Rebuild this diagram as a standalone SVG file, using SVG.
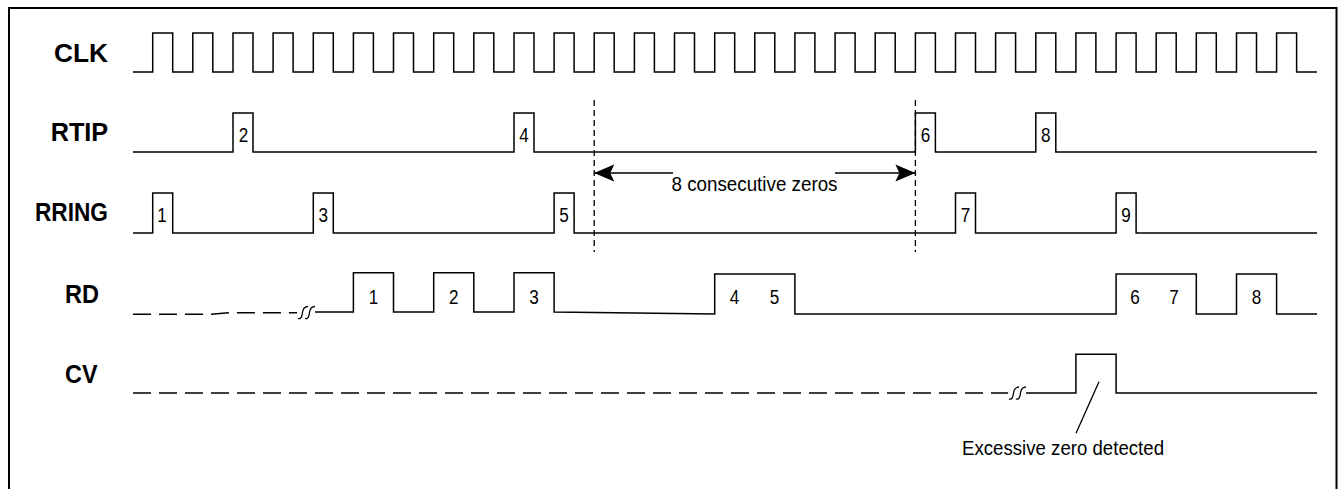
<svg xmlns="http://www.w3.org/2000/svg" xmlns:xlink="http://www.w3.org/1999/xlink" width="1343" height="489" viewBox="0 0 1343 489">
<style>
.wave{fill:none;stroke:#000;stroke-width:1.5;stroke-linejoin:miter}
.dash{fill:none;stroke:#000;stroke-width:1.5;stroke-dasharray:18 8}
.vdash{fill:none;stroke:#000;stroke-width:1.3;stroke-dasharray:6 4}
.lbl{font-family:"Liberation Sans",Arial,sans-serif;font-weight:bold;font-size:26px;fill:#000}
.num{font-family:"Liberation Sans",Arial,sans-serif;font-size:20.5px;fill:#000;text-anchor:middle}
.note{font-family:"Liberation Sans",Arial,sans-serif;font-size:20px;fill:#000}
.brk{fill:none;stroke:#000;stroke-width:1.3}
</style>
<defs>
<path id="brk" class="brk" d="M0,6 C3,7 4,4 4.5,0 S7,-6 10,-6 M7,6 C10,7 11,4 11.5,0 S14,-6 17,-6"/>
<marker id="arr" markerUnits="userSpaceOnUse" markerWidth="22" markerHeight="20" refX="20" refY="0" viewBox="0 -10 22 20" orient="auto">
<path d="M0,-8.5 L20,0 L0,8.5 L4,0 Z" fill="#000"/>
</marker>
</defs>
<rect width="1343" height="489" fill="#fff"/>
<path d="M9,495 V8 H1336.5 V495" fill="none" stroke="#000" stroke-width="2"/>

<g id="clk">
<text class="lbl" x="54" y="62" textLength="54" lengthAdjust="spacingAndGlyphs">CLK</text>
<path class="wave" d="M133,72 H152.7 V33 H172.7 V72 H192.8 V33 H212.8 V72 H233 V33 H253 V72 H273.1 V33 H293.1 V72 H313.3 V33 H333.3 V72 H353.4 V33 H373.4 V72 H393.5 V33 H413.5 V72 H433.7 V33 H453.7 V72 H473.8 V33 H493.8 V72 H514 V33 H534 V72 H554.1 V33 H574.1 V72 H594.2 V33 H614.2 V72 H634.4 V33 H654.4 V72 H674.5 V33 H694.5 V72 H714.7 V33 H734.7 V72 H754.8 V33 H774.8 V72 H794.9 V33 H814.9 V72 H835.1 V33 H855.1 V72 H875.2 V33 H895.2 V72 H915.4 V33 H935.4 V72 H955.5 V33 H975.5 V72 H995.6 V33 H1015.6 V72 H1035.8 V33 H1055.8 V72 H1075.9 V33 H1095.9 V72 H1116.1 V33 H1136.1 V72 H1156.2 V33 H1176.2 V72 H1196.3 V33 H1216.3 V72 H1236.5 V33 H1256.5 V72 H1276.6 V33 H1296.6 V72 H1317"/>
</g>

<g id="rtip">
<text class="lbl" x="50.7" y="141" textLength="57.5" lengthAdjust="spacingAndGlyphs">RTIP</text>
<path class="wave" d="M133,152 H233 V113 H253 V152 H514 V113 H534 V152 H915.4 V113 H935.4 V152 H1035.8 V113 H1055.8 V152 H1317"/>
<text class="num" x="243.5" y="141.5" textLength="9.5" lengthAdjust="spacingAndGlyphs">2</text>
<text class="num" x="524" y="141.5" textLength="9.5" lengthAdjust="spacingAndGlyphs">4</text>
<text class="num" x="925.4" y="141.5" textLength="9.5" lengthAdjust="spacingAndGlyphs">6</text>
<text class="num" x="1045.8" y="141.5" textLength="9.5" lengthAdjust="spacingAndGlyphs">8</text>
</g>

<g id="rring">
<text class="lbl" x="35" y="221" textLength="73" lengthAdjust="spacingAndGlyphs">RRING</text>
<path class="wave" d="M133,233 H152.7 V193 H172.7 V233 H313.3 V193 H333.3 V233 H554.1 V193 H574.1 V233 H955.5 V193 H975.5 V233 H1116.1 V193 H1136.1 V233 H1317"/>
<text class="num" x="162" y="222" textLength="9.5" lengthAdjust="spacingAndGlyphs">1</text>
<text class="num" x="323.3" y="222" textLength="9.5" lengthAdjust="spacingAndGlyphs">3</text>
<text class="num" x="564.1" y="222" textLength="9.5" lengthAdjust="spacingAndGlyphs">5</text>
<text class="num" x="965.5" y="222" textLength="9.5" lengthAdjust="spacingAndGlyphs">7</text>
<text class="num" x="1126.1" y="222" textLength="9.5" lengthAdjust="spacingAndGlyphs">9</text>
</g>

<g id="rd">
<text class="lbl" x="65" y="303" textLength="34" lengthAdjust="spacingAndGlyphs">RD</text>
<path class="dash" d="M133,314.3 H211 L229,312.7 H297"/>
<use xlink:href="#brk" href="#brk" x="298" y="312.5"/>
<path class="wave" d="M315,312 H353.4 V272.7 H393.5 V312 H433.7 V272.7 H473.8 V312 H514 V272.7 H554.1 V312 L714.7,314 V274 H794.9 V314 H1116.1 V274 H1196.3 V314 H1236.5 V274 H1276.6 V314 H1317"/>
<text class="num" x="373.4" y="303.5" textLength="9.5" lengthAdjust="spacingAndGlyphs">1</text>
<text class="num" x="453.7" y="303.5" textLength="9.5" lengthAdjust="spacingAndGlyphs">2</text>
<text class="num" x="534" y="303.5" textLength="9.5" lengthAdjust="spacingAndGlyphs">3</text>
<text class="num" x="734.5" y="303.5" textLength="9.5" lengthAdjust="spacingAndGlyphs">4</text>
<text class="num" x="774.5" y="303.5" textLength="9.5" lengthAdjust="spacingAndGlyphs">5</text>
<text class="num" x="1135" y="303.5" textLength="9.5" lengthAdjust="spacingAndGlyphs">6</text>
<text class="num" x="1174" y="303.5" textLength="9.5" lengthAdjust="spacingAndGlyphs">7</text>
<text class="num" x="1256.5" y="303.5" textLength="9.5" lengthAdjust="spacingAndGlyphs">8</text>
</g>

<g id="cv">
<text class="lbl" x="65" y="383" textLength="32.5" lengthAdjust="spacingAndGlyphs">CV</text>
<path class="dash" d="M133,393 H1008"/>
<use xlink:href="#brk" href="#brk" x="1009" y="393"/>
<path class="wave" d="M1026,393 H1075.9 V354.3 H1116.1 V393 H1317"/>
</g>

<g id="connectors">
<path class="vdash" d="M594.2,100 V252"/>
<path class="vdash" d="M915.4,100 V252"/>
<path d="M673,173 H594.2" fill="none" stroke="#000" stroke-width="1.3" marker-end="url(#arr)"/>
<path d="M835,173 H915.4" fill="none" stroke="#000" stroke-width="1.3" marker-end="url(#arr)"/>
<path d="M1099,381.7 L1076,433.3" fill="none" stroke="#000" stroke-width="1.3"/>
</g>

<g id="notes">
<text class="note" x="671.5" y="190.7" font-size="22" textLength="166" lengthAdjust="spacingAndGlyphs">8 consecutive zeros</text>
<text class="note" x="962" y="455" font-size="20" textLength="202" lengthAdjust="spacingAndGlyphs">Excessive zero detected</text>
</g>
</svg>
